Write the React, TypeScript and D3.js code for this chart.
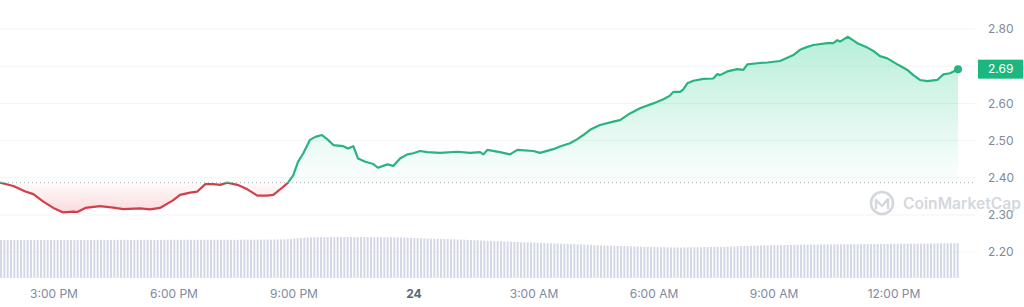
import React from "react";
import * as d3 from "d3";

// ---- data ----
const START = new Date(2024, 0, 23, 13, 39);
const END = new Date(2024, 0, 24, 13, 39);

// minutes after START
const minutes = [0, 20, 38, 50, 65, 80, 95, 110, 116, 128, 150, 170, 185, 210, 225, 240, 260, 270, 285, 296, 308, 320, 330, 341, 356, 371, 386, 401, 410, 425, 432, 440, 447, 455, 465, 473, 483, 492, 500, 515, 522, 530, 537, 548, 560, 567, 581, 590, 600, 611, 620, 630, 641, 660, 686, 705, 720, 725, 731, 750, 765, 776, 800, 810, 830, 840, 855, 866, 875, 885, 900, 920, 930, 945, 960, 980, 995, 1005, 1010, 1020, 1025, 1031, 1040, 1055, 1070, 1076, 1080, 1091, 1106, 1115, 1121, 1136, 1151, 1170, 1181, 1190, 1200, 1211, 1220, 1241, 1250, 1256, 1260, 1272, 1286, 1301, 1310, 1320, 1331, 1346, 1350, 1361, 1370, 1380, 1391, 1406, 1415, 1425, 1437];
const prices = [2.387, 2.378, 2.363, 2.356, 2.336, 2.319, 2.307, 2.309, 2.308, 2.319, 2.324, 2.320, 2.316, 2.318, 2.315, 2.319, 2.340, 2.354, 2.360, 2.363, 2.383, 2.383, 2.381, 2.387, 2.381, 2.369, 2.352, 2.352, 2.354, 2.376, 2.387, 2.4075, 2.443, 2.466, 2.502, 2.510, 2.515, 2.502, 2.488, 2.485, 2.479, 2.485, 2.452, 2.443, 2.437, 2.427, 2.436, 2.432, 2.452, 2.463, 2.466, 2.472, 2.469, 2.467, 2.470, 2.467, 2.469, 2.463, 2.475, 2.469, 2.463, 2.475, 2.472, 2.467, 2.477, 2.484, 2.493, 2.504, 2.515, 2.529, 2.542, 2.551, 2.555, 2.573, 2.587, 2.600, 2.611, 2.621, 2.631, 2.631, 2.638, 2.654, 2.661, 2.666, 2.667, 2.679, 2.676, 2.686, 2.692, 2.690, 2.705, 2.708, 2.710, 2.714, 2.723, 2.730, 2.744, 2.752, 2.757, 2.762, 2.762, 2.770, 2.766, 2.779, 2.762, 2.750, 2.741, 2.727, 2.721, 2.705, 2.701, 2.690, 2.676, 2.663, 2.660, 2.663, 2.678, 2.681, 2.692];

const basePrice = 2.387;
const currentLabel = "2.69";

// 5-minute volume bars (arbitrary units)
const volumes = [
  380, 380, 379, 380, 381, 380, 380, 379, 380, 380, 381, 380,
  380, 381, 380, 380, 379, 380, 381, 380, 380, 380, 379, 380,
  380, 381, 381, 380, 381, 382, 381, 380, 381, 381, 382, 381,
  381, 381, 382, 381, 380, 381, 382, 381, 381, 382, 381, 381,
  382, 381, 382, 382, 383, 382, 381, 382, 382, 383, 382, 382,
  382, 383, 382, 382, 383, 382, 383, 383, 382, 383, 383, 382,
  383, 383, 384, 383, 383, 384, 383, 384, 384, 383, 384, 385,
  386, 387, 389, 392, 395, 398, 401, 403, 405, 406, 407, 408,
  409, 409, 410, 410, 410, 411, 410, 410, 411, 410, 410, 410,
  410, 410, 409, 410, 409, 409, 408, 408, 408, 407, 407, 406,
  405, 404, 403, 402, 400, 399, 397, 396, 395, 394, 393, 392,
  391, 390, 389, 388, 386, 385, 384, 383, 381, 380, 378, 377,
  375, 374, 373, 371, 370, 369, 367, 366, 364, 363, 361, 360,
  358, 357, 356, 355, 353, 352, 351, 350, 349, 347, 346, 345,
  343, 342, 341, 339, 338, 336, 335, 334, 332, 331, 329, 328,
  326, 325, 324, 323, 322, 321, 320, 319, 318, 317, 316, 315,
  314, 313, 312, 311, 310, 309, 308, 308, 307, 306, 306, 305,
  305, 306, 306, 307, 307, 308, 308, 309, 309, 310, 311, 311,
  312, 313, 314, 315, 316, 318, 319, 320, 321, 322, 323, 324,
  325, 326, 327, 328, 329, 329, 330, 330, 331, 331, 332, 332,
  333, 333, 333, 334, 334, 334, 335, 335, 335, 336, 336, 336,
  337, 337, 337, 338, 338, 338, 339, 339, 339, 340, 340, 340,
  341, 341, 341, 342, 342, 342, 343, 343, 343, 344, 344, 344,
  345, 345, 346, 346, 346, 347, 347, 347, 348, 348, 349, 349,
];

const yTicks = [2.2, 2.3, 2.4, 2.5, 2.6, 2.7, 2.8];

// ---- layout ----
const W = 1024;
const H = 307;
const GREEN = "#27b47f";
const RED = "#d23f4b";
const BADGE = "#1bb77f";

export default function App() {
  const x = d3.scaleTime().domain([START, END]).range([0, 960]);
  const y = d3.scaleLinear().domain([2.2, 2.8]).range([252.2, 29]);
  const yVol = d3.scaleLinear().domain([0, 500]).range([278, 228]);

  const pts = minutes.map((m, i) => ({ t: new Date(START.getTime() + m * 60000), p: prices[i] }));
  const baseY = y(basePrice);

  const line = d3.line<any>().x((d) => x(d.t)).y((d) => y(d.p));
  const area = d3.area<any>().x((d) => x(d.t)).y0(baseY).y1((d) => y(d.p));

  const xTicks = x.ticks(d3.timeHour.every(3) as any);
  const fmt = d3.timeFormat("%-I:%M %p");

  const last = pts[pts.length - 1];
  const barW = 2;
  const gridRight = 975;

  return (
    <svg width={W} height={H} style={{ display: "block", fontFamily: "Inter, 'Noto Sans', sans-serif" }}>
      <style>{`body{margin:0}`}</style>
      <defs>
        <clipPath id="above">
          <rect x={0} y={0} width={W} height={baseY} />
        </clipPath>
        <clipPath id="below">
          <rect x={0} y={baseY} width={W} height={H - baseY} />
        </clipPath>
        <linearGradient id="gGreen" gradientUnits="userSpaceOnUse" x1={0} x2={0} y1={y(2.8)} y2={baseY}>
          <stop offset="0%" stopColor="#16c784" stopOpacity={0.32} />
          <stop offset="100%" stopColor="#16c784" stopOpacity={0.01} />
        </linearGradient>
        <linearGradient id="gRed" gradientUnits="userSpaceOnUse" x1={0} x2={0} y1={baseY} y2={y(2.3)}>
          <stop offset="0%" stopColor="#ea3943" stopOpacity={0.02} />
          <stop offset="100%" stopColor="#ea3943" stopOpacity={0.2} />
        </linearGradient>
      </defs>

      {/* grid */}
      {yTicks.map((t) => (
        <line key={t} x1={0} x2={gridRight} y1={y(t)} y2={y(t)} stroke="#f1f3f6" strokeWidth={1} />
      ))}

      {/* volume bars */}
      {volumes.map((v, i) => {
        const t = new Date(START.getTime() + i * 5 * 60000);
        return (
          <rect key={i} x={x(t)} y={yVol(v)} width={barW} height={yVol(0) - yVol(v)} fill="#d3d9e6" />
        );
      })}

      {/* watermark */}
      <g opacity={0.6}>
        <circle cx={882} cy={203} r={11} fill="none" stroke="#b9bec7" strokeWidth={2.6} />
        <path d="M876 208 L876 200 L882 206 L888 199 L888 208" fill="none" stroke="#b9bec7" strokeWidth={2.4} strokeLinejoin="round" strokeLinecap="round" />
        <text x={903} y={209} fontSize={15.5} fontWeight={600} fill="#b9bec7" textLength={118} lengthAdjust="spacingAndGlyphs">CoinMarketCap</text>
      </g>

      {/* areas */}
      <path d={area(pts) || ""} fill="url(#gGreen)" clipPath="url(#above)" />
      <path d={area(pts) || ""} fill="url(#gRed)" clipPath="url(#below)" />

      {/* baseline */}
      <line x1={0} x2={gridRight} y1={baseY} y2={baseY} stroke="#aab2bf" strokeWidth={1} strokeDasharray="1 3" />

      {/* lines */}
      <path d={line(pts) || ""} fill="none" stroke={GREEN} strokeWidth={2.2} strokeLinejoin="round" clipPath="url(#above)" />
      <path d={line(pts) || ""} fill="none" stroke={RED} strokeWidth={2.2} strokeLinejoin="round" clipPath="url(#below)" />

      <circle cx={x(last.t)} cy={y(last.p)} r={4} fill={GREEN} />

      {/* y axis labels */}
      {yTicks.map((t) =>
        t === 2.7 ? null : (
          <text key={t} x={988} y={y(t)} dy="0.35em" fontSize={12} fill="#808a9d">
            {t.toFixed(2)}
          </text>
        )
      )}

      {/* current price badge */}
      <rect x={978} y={y(last.p) - 9.5} width={45} height={19} fill={BADGE} />
      <text x={988} y={y(last.p)} dy="0.35em" fontSize={12} fill="#ffffff">
        {currentLabel}
      </text>

      {/* x axis labels */}
      {xTicks.map((t, i) => {
        const midnight = t.getHours() === 0;
        return (
          <text
            key={i}
            x={x(t)}
            y={294}
            dy="0.35em"
            textAnchor="middle"
            fontSize={12}
            fontWeight={midnight ? 700 : 400}
            fill={midnight ? "#58667e" : "#808a9d"}
          >
            {midnight ? d3.timeFormat("%-d")(t) : fmt(t)}
          </text>
        );
      })}
    </svg>
  );
}
